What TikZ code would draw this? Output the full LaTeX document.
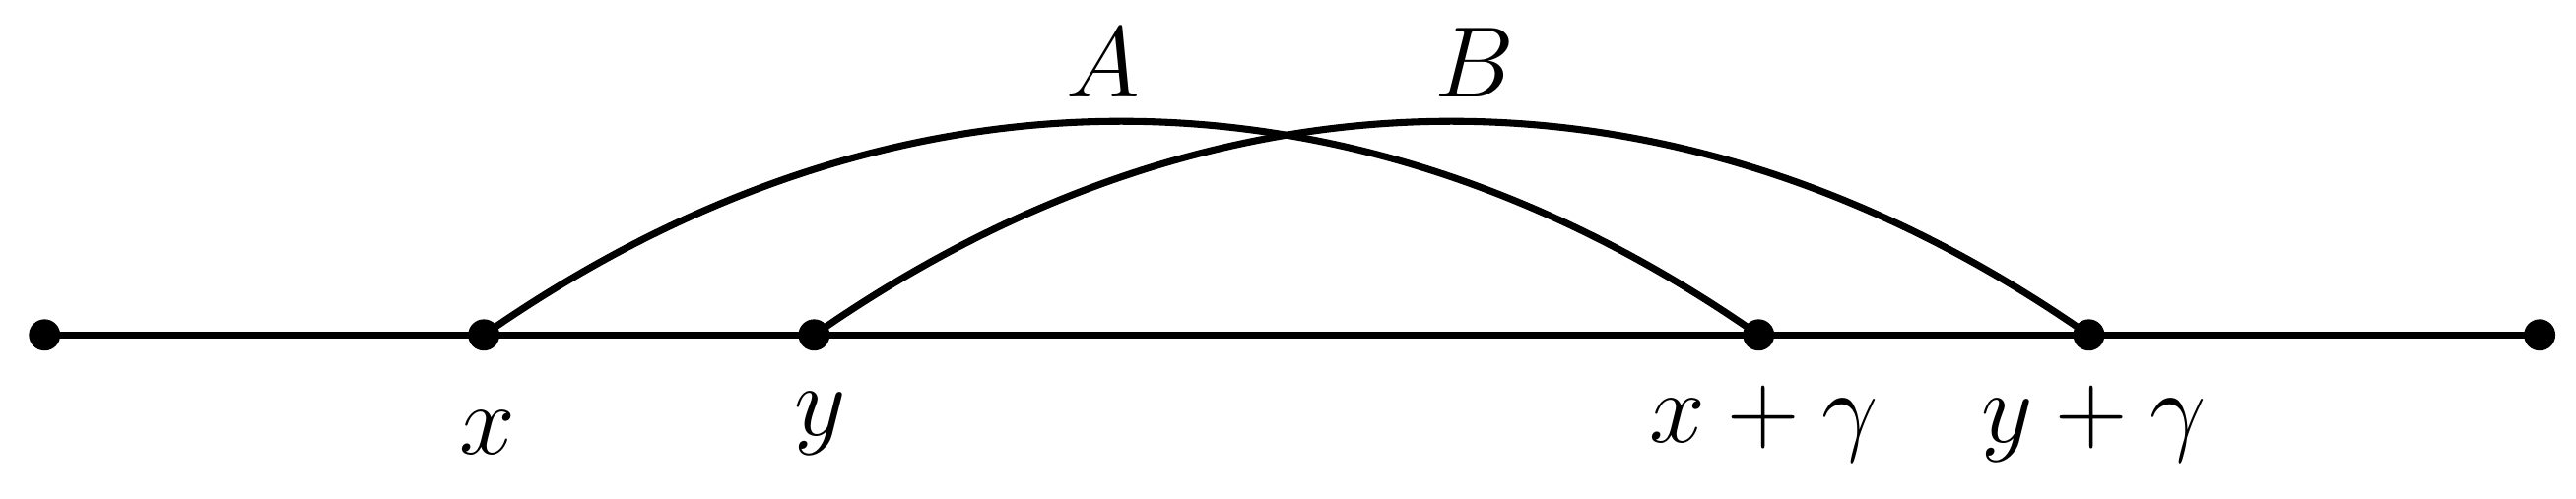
\documentclass[tikz,border=0pt]{standalone}
\begin{document}
\begin{tikzpicture}[x=0.01cm,y=-0.01cm,line width=1.2pt,
  dot/.style={circle,fill=black,inner sep=0pt,minimum size=0.19cm},
  lab/.style={font=\fontsize{18}{22}\selectfont}]
\useasboundingbox (0,0) rectangle (1560,302);
\node[dot] (L) at (27,203) {};
\node[dot] (x) at (293,203) {};
\node[dot] (y) at (493,203) {};
\node[dot] (xg) at (1065,203) {};
\node[dot] (yg) at (1265,203) {};
\node[dot] (R) at (1538,203) {};
\draw (L.center) -- (R.center);
\draw (x.center) to[out=35,in=145] (xg.center);
\draw (y.center) to[out=35,in=145] (yg.center);
\node[lab] (lx) at (295,262) {$x$};
\node[lab] (ly) at (497,257) {$y$};
\node[lab] (lxg) at (1068,257) {$x+\gamma$};
\node[lab] (lyg) at (1268,257) {$y+\gamma$};
\node[lab] (A) at (668,38) {$A$};
\node[lab] (B) at (893,38) {$B$};
\end{tikzpicture}
\end{document}
